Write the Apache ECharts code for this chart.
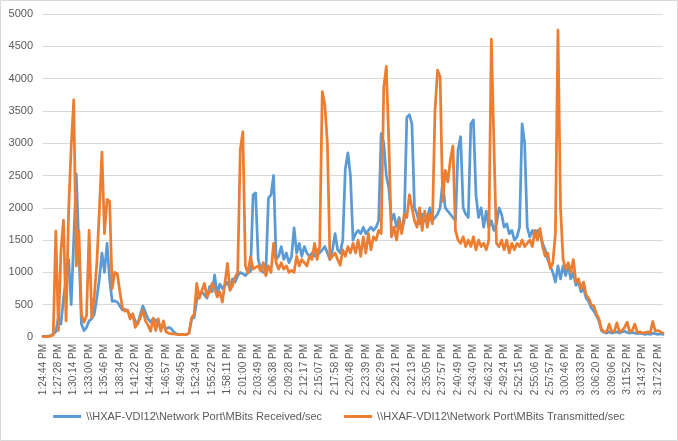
<!DOCTYPE html>
<html>
<head>
<meta charset="utf-8">
<script src="https://cdn.jsdelivr.net/npm/echarts@6/dist/echarts.min.js"></script>
<style>
html,body{margin:0;padding:0;background:#fff;}
#chart{width:678px;height:441px;}
</style>
</head>
<body>
<div id="chart"></div>
<script>
const tickLabels = ['1:24:44 PM','1:27:28 PM','1:30:14 PM','1:33:00 PM','1:35:46 PM','1:38:34 PM','1:41:22 PM','1:44:09 PM','1:46:57 PM','1:49:45 PM','1:52:34 PM','1:55:22 PM','1:58:11 PM','2:01:00 PM','2:03:49 PM','2:06:38 PM','2:09:28 PM','2:12:17 PM','2:15:07 PM','2:17:58 PM','2:20:48 PM','2:23:39 PM','2:26:29 PM','2:29:21 PM','2:32:13 PM','2:35:05 PM','2:37:57 PM','2:40:49 PM','2:43:40 PM','2:46:32 PM','2:49:24 PM','2:52:15 PM','2:55:06 PM','2:57:57 PM','3:00:46 PM','3:03:33 PM','3:06:20 PM','3:09:06 PM','3:11:52 PM','3:14:37 PM','3:17:22 PM'];
const samplesPerTick = 6;

const seriesNames = ['\\\\HXAF-VDI12\\Network Port\\MBits Received/sec', '\\\\HXAF-VDI12\\Network Port\\MBits Transmitted/sec'];

const received = [
10,10,15,20,50,80,300,200,600,900,
1200,500,1500,2520,1400,200,100,150,250,280,
350,600,900,1300,1000,1450,900,550,560,540,
480,420,430,400,330,350,250,200,350,480,
380,280,230,280,260,180,150,180,120,150,
130,80,50,40,40,35,40,60,280,300,
570,650,700,650,600,780,700,960,650,820,
750,800,850,750,900,850,950,1000,980,950,
1000,1010,2200,2230,1200,1050,1000,1020,2150,2200,
2500,1200,1250,1400,1200,1300,1150,1240,1690,1300,
1450,1250,1400,1300,1250,1300,1250,1350,1300,1350,
1400,1300,1200,1350,1600,1350,1300,1500,2600,2850,
2500,1500,1600,1650,1600,1700,1600,1650,1700,1650,
1700,1800,3150,3000,2500,2300,1800,1900,1700,1850,
1650,1800,3400,3440,3300,2000,1900,1750,1900,1800,
1850,2000,1800,1850,1900,2000,2400,2000,1950,1900,
1850,1800,2900,3100,2000,1900,1850,3300,3360,2200,
1850,2000,1700,1950,1700,1800,1650,1750,2000,1900,
1700,1750,1600,1650,1500,1550,1700,3300,3000,1700,
1550,1650,1550,1650,1600,1450,1350,1200,1100,1000,
850,1100,900,1100,950,1100,900,1000,800,850,
700,750,600,550,450,400,330,250,100,70,
60,80,60,70,80,60,80,90,70,60,
70,60,50,60,50,40,50,40,60,50,
40,50,40
];

const transmitted = [
5,5,10,15,30,1640,100,1330,1810,250,
1950,2945,3670,1100,1640,350,230,330,1650,300,
620,1140,1960,2860,1600,2130,2100,750,1000,980,
700,450,400,420,280,360,150,220,300,420,
250,180,90,290,100,280,90,250,80,60,
50,50,40,35,40,35,40,60,300,350,
830,600,720,830,620,700,830,750,620,700,
540,830,1140,720,800,930,1000,2900,3180,1100,
990,1240,1050,1080,1100,1020,1150,950,1100,1000,
1450,1150,1050,1150,1050,1100,1000,1030,1000,1250,
1100,1200,1150,1100,1250,1200,1450,1200,1400,3800,
3600,3000,1200,1250,1300,1200,1110,1350,1250,1400,
1300,1450,1300,1500,1250,1550,1300,1600,1350,1550,
1500,1650,1600,3860,4190,3000,1550,1700,1500,1800,
1600,1900,1850,2200,2000,1800,1700,2000,1650,1950,
1700,1900,1750,3500,4130,4030,2100,2580,2400,2740,
2960,1650,1500,1450,1550,1400,1500,1400,1550,1350,
1500,1400,1450,1350,1500,4610,3000,1450,1400,1500,
1350,1500,1300,1450,1350,1450,1400,1500,1400,1450,
1500,1400,1650,1500,1680,1400,1250,1300,1060,1150,
1600,4750,2000,1200,1050,1150,1000,1200,850,900,
750,850,650,600,500,480,360,280,120,80,
80,200,80,90,220,80,100,150,230,80,
100,200,70,80,60,70,80,60,240,90,
100,80,60
];

const categories = received.map((_, i) => (i % samplesPerTick === 0 && tickLabels[i / samplesPerTick]) ? tickLabels[i / samplesPerTick] : '');

const chart = echarts.init(document.getElementById('chart'), null, {renderer: 'canvas'});
const font = 'Liberation Sans, Arial, sans-serif';
chart.setOption({
  animation: false,
  backgroundColor: '#ffffff',
  textStyle: {fontFamily: font},
  graphic: [{
    type: 'rect',
    shape: {x: 0.5, y: 0.5, width: 677, height: 440},
    style: {fill: 'none', stroke: '#d9d9d9', lineWidth: 1},
    silent: true
  }],
  grid: {left: 43, right: 15, top: 14, bottom: 104, containLabel: false},
  legend: {
    bottom: 14,
    left: 'center',
    icon: 'rect',
    itemWidth: 28,
    itemHeight: 3,
    itemGap: 22,
    textStyle: {color: '#595959', fontSize: 11, fontFamily: font},
    data: seriesNames
  },
  xAxis: {
    type: 'category',
    data: categories,
    boundaryGap: false,
    axisLine: {lineStyle: {color: '#d9d9d9', width: 1}},
    axisTick: {show: false},
    axisLabel: {
      interval: (idx) => idx % samplesPerTick === 0,
      rotate: 90,
      margin: 7,
      color: '#595959',
      fontSize: 10,
      fontFamily: font
    },
    splitLine: {show: false}
  },
  yAxis: {
    type: 'value',
    min: 0,
    max: 5000,
    interval: 500,
    axisLine: {show: false},
    axisTick: {show: false},
    axisLabel: {color: '#595959', fontSize: 11, margin: 10, fontFamily: font, formatter: (v) => String(v)},
    splitLine: {lineStyle: {color: '#d9d9d9', width: 1}}
  },
  series: [
    {
      name: seriesNames[0],
      type: 'line',
      data: received,
      symbol: 'none',
      lineStyle: {color: '#5B9BD5', width: 2.75, join: 'round', cap: 'round'},
      itemStyle: {color: '#5B9BD5'}
    },
    {
      name: seriesNames[1],
      type: 'line',
      data: transmitted,
      symbol: 'none',
      lineStyle: {color: '#ED7D31', width: 2.75, join: 'round', cap: 'round'},
      itemStyle: {color: '#ED7D31'}
    }
  ]
});
</script>
</body>
</html>
